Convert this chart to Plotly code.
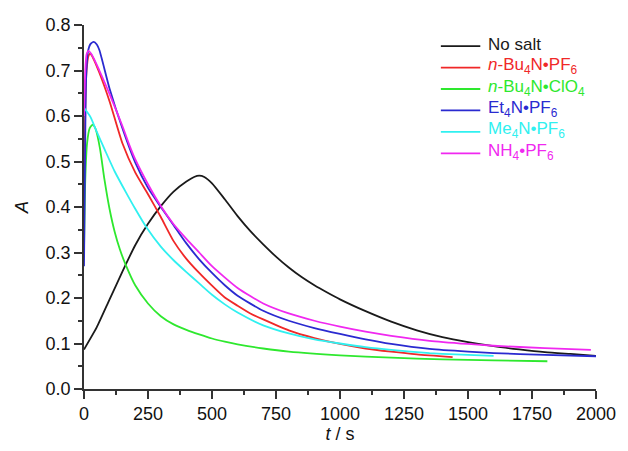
import plotly.graph_objects as go

# ---- data ----
t_nosalt = [0, 50, 100, 150, 200, 250, 300, 350, 400, 430, 450, 470, 500, 550, 600, 650, 700, 750, 800, 850, 900,
            950, 1000, 1100, 1200, 1300, 1400, 1500, 1600, 1700, 1800, 1900, 2000]
a_nosalt = [0.087, 0.136, 0.197, 0.258, 0.316, 0.363, 0.402, 0.434, 0.456, 0.466, 0.469, 0.466, 0.452, 0.417, 0.380,
            0.347, 0.318, 0.291, 0.267, 0.246, 0.228, 0.212, 0.197, 0.171, 0.148, 0.129, 0.114, 0.103, 0.094, 0.087,
            0.081, 0.077, 0.073]

t_bu4pf6 = [0, 5, 10, 18, 25, 35, 60, 100, 150, 200, 250, 300, 350, 400, 450, 500, 550, 600, 650, 700, 800, 900,
            1000, 1100, 1200, 1300, 1440]
a_bu4pf6 = [0.40, 0.62, 0.70, 0.733, 0.737, 0.728, 0.695, 0.632, 0.540, 0.476, 0.428, 0.378, 0.325, 0.286, 0.255,
            0.227, 0.201, 0.183, 0.166, 0.153, 0.129, 0.112, 0.099, 0.089, 0.082, 0.076, 0.070]

t_bu4clo4 = [0, 5, 12, 22, 34, 45, 62, 80, 100, 120, 140, 165, 200, 250, 300, 350, 400, 450, 500, 550, 600, 700,
             800, 1000, 1200, 1400, 1600, 1810]
a_bu4clo4 = [0.30, 0.46, 0.54, 0.573, 0.581, 0.572, 0.530, 0.460, 0.395, 0.345, 0.307, 0.270, 0.228, 0.188, 0.160,
             0.142, 0.130, 0.120, 0.111, 0.104, 0.098, 0.089, 0.082, 0.074, 0.069, 0.065, 0.063, 0.061]

t_et4pf6 = [0, 4, 8, 15, 25, 38, 50, 60, 100, 150, 200, 250, 300, 350, 400, 450, 500, 550, 600, 700, 800, 900,
            1000, 1100, 1200, 1350, 1500, 1600, 1800, 2000]
a_et4pf6 = [0.27, 0.50, 0.68, 0.74, 0.758, 0.763, 0.757, 0.745, 0.660, 0.573, 0.498, 0.442, 0.400, 0.360, 0.320,
            0.285, 0.255, 0.228, 0.205, 0.172, 0.150, 0.134, 0.121, 0.109, 0.099, 0.088, 0.082, 0.079, 0.075, 0.072]

t_me4pf6 = [0, 25, 50, 81, 120, 165, 200, 243, 300, 350, 400, 450, 500, 550, 600, 700, 800, 900, 1000, 1100, 1200,
            1350, 1450, 1600]
a_me4pf6 = [0.618, 0.598, 0.565, 0.526, 0.478, 0.431, 0.396, 0.356, 0.313, 0.283, 0.257, 0.232, 0.207, 0.186, 0.168,
            0.140, 0.122, 0.109, 0.100, 0.092, 0.086, 0.079, 0.076, 0.073]

t_nh4pf6 = [0, 5, 10, 17, 30, 60, 100, 150, 178, 200, 250, 300, 350, 400, 450, 500, 600, 700, 800, 900, 1000,
            1100, 1200, 1350, 1500, 1600, 1800, 1980]
a_nh4pf6 = [0.60, 0.70, 0.735, 0.743, 0.735, 0.700, 0.648, 0.578, 0.535, 0.505, 0.450, 0.402, 0.362, 0.330, 0.300,
            0.270, 0.222, 0.188, 0.166, 0.150, 0.137, 0.126, 0.117, 0.106, 0.099, 0.095, 0.090, 0.086]

x_ticks = [0, 250, 500, 750, 1000, 1250, 1500, 1750, 2000]
y_ticks = [0.0, 0.1, 0.2, 0.3, 0.4, 0.5, 0.6, 0.7, 0.8]

series_names = ["No salt",
                "<i>n</i>-Bu<sub>4</sub>N•PF<sub>6</sub>",
                "<i>n</i>-Bu<sub>4</sub>N•ClO<sub>4</sub>",
                "Et<sub>4</sub>N•PF<sub>6</sub>",
                "Me<sub>4</sub>N•PF<sub>6</sub>",
                "NH<sub>4</sub>•PF<sub>6</sub>"]
series_x = [t_nosalt, t_bu4pf6, t_bu4clo4, t_et4pf6, t_me4pf6, t_nh4pf6]
series_y = [a_nosalt, a_bu4pf6, a_bu4clo4, a_et4pf6, a_me4pf6, a_nh4pf6]
series_colors = ["#1a1a1a", "#f02828", "#2ee82e", "#2a2ad0", "#30f0f0", "#f028f0"]

FONT = "Liberation Sans, Arial, sans-serif"

fig = go.Figure()
for name, xs, ys, col in zip(series_names, series_x, series_y, series_colors):
    fig.add_trace(go.Scatter(
        x=xs, y=ys, mode="lines", name=name, showlegend=False,
        line=dict(color=col, width=1.8, shape="spline", smoothing=0.6),
    ))

# manual legend (text + short line sample), placed in paper coordinates
L_X0, L_X1, L_TX = 0.697, 0.774, 0.786
L_Y0, L_DY = 0.942, 0.0589
for i, (name, col) in enumerate(zip(series_names, series_colors)):
    yy = L_Y0 - i * L_DY
    fig.add_shape(type="line", xref="paper", yref="paper", x0=L_X0, x1=L_X1, y0=yy, y1=yy,
                  line=dict(color=col, width=1.8))
    fig.add_annotation(xref="paper", yref="paper", x=L_TX, y=yy + 0.004, xanchor="left", yanchor="middle",
                       text=name, showarrow=False, font=dict(family=FONT, size=17, color=col))

axis_common = dict(
    showline=True, linecolor="#333333", linewidth=1.5, mirror=False,
    ticks="outside", ticklen=8, tickwidth=1.5, tickcolor="#333333",
    showgrid=False, zeroline=False,
    tickfont=dict(family=FONT, size=18, color="#111111"),
)

fig.update_xaxes(
    range=[0, 2000], tickvals=x_ticks,
    minor=dict(ticks="outside", ticklen=4, tickwidth=1.5, tickcolor="#333333", dtick=125, showgrid=False),
    title=dict(text="<i>t</i> / s", font=dict(family=FONT, size=18, color="#111111"), standoff=2),
    **axis_common,
)
fig.update_yaxes(
    range=[0, 0.8], tickvals=y_ticks, tickformat=".1f",
    minor=dict(ticks="outside", ticklen=4, tickwidth=1.5, tickcolor="#333333", dtick=0.05, showgrid=False),
    title=dict(text="<i>A</i>", font=dict(family=FONT, size=18, color="#111111"), standoff=12),
    **axis_common,
)

fig.update_layout(
    width=628, height=451,
    margin=dict(l=84, r=26, t=25, b=61),
    paper_bgcolor="white", plot_bgcolor="white",
    font=dict(family=FONT, size=15, color="#111111"),
    showlegend=False,
)

fig.write_html("out.html")
